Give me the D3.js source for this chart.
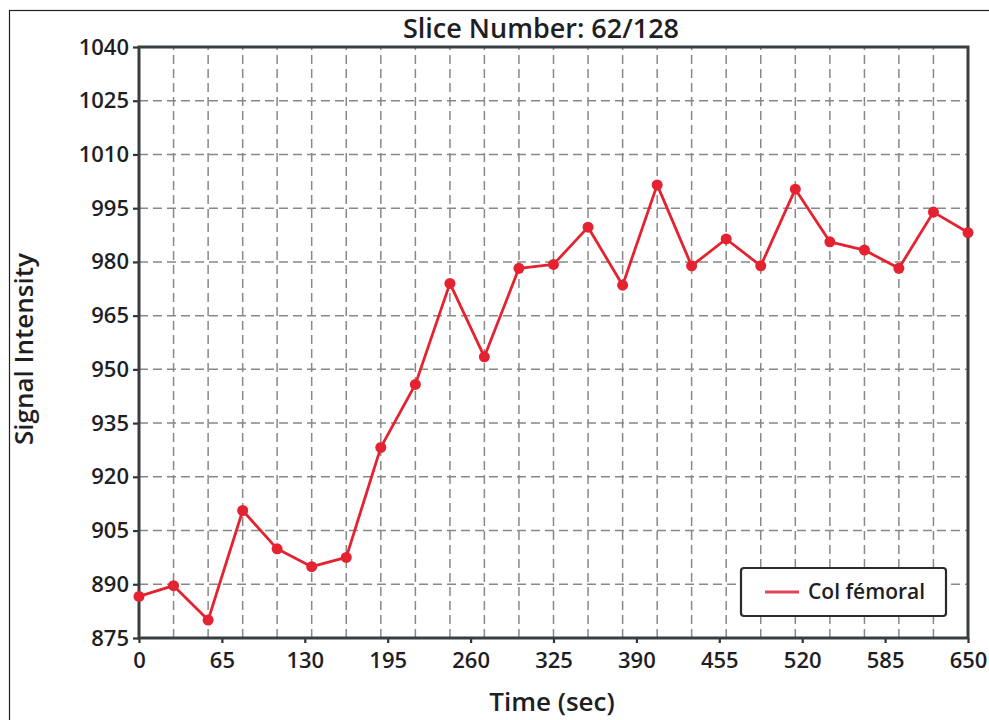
<!DOCTYPE html>
<html>
<head>
<meta charset="utf-8">
<script src="https://cdn.jsdelivr.net/npm/d3@7"></script>
<style>
  html, body { margin: 0; padding: 0; background: #fff; }
  svg { display: block; }
  text { font-family: "Open Sans", "Noto Sans", "DejaVu Sans", sans-serif; fill: #1e1e24; }
</style>
</head>
<body>
<svg id="chart" width="989" height="720"></svg>
<script>
// ---- data ----
const chartTitle = "Slice Number: 62/128";
const xTitle = "Time (sec)";
const yTitle = "Signal Intensity";
const seriesName = "Col fémoral";
const times = [0, 27.1, 54.2, 81.3, 108.3, 135.4, 162.5, 189.6, 216.7, 243.8, 270.8, 297.9, 325.0,
               352.1, 379.2, 406.3, 433.3, 460.4, 487.5, 514.6, 541.7, 568.8, 595.8, 622.9, 650.0];
const intensity = [886.6, 889.6, 880.0, 910.6, 899.9, 894.9, 897.5, 928.2, 945.8, 974.0, 953.5, 978.2, 979.3,
                   989.7, 973.5, 1001.5, 978.9, 986.4, 978.9, 1000.3, 985.6, 983.3, 978.2, 993.9, 988.2];
const xTicks = [0, 65, 130, 195, 260, 325, 390, 455, 520, 585, 650];
const yTicks = [875, 890, 905, 920, 935, 950, 965, 980, 995, 1010, 1025, 1040];

// ---- layout ----
const svg = d3.select("#chart");
const L = 139, R = 968, T = 47, B = 638;
const red = "#e5222f";

const x = d3.scaleLinear().domain([0, 650]).range([L, R]);
const y = d3.scaleLinear().domain([875, 1040]).range([B, T]);

// outer frame
svg.append("rect").attr("x", 9.5).attr("y", 10.5).attr("width", 1000).attr("height", 800)
  .attr("fill", "none").attr("stroke", "#222").attr("stroke-width", 1.2);

// grid
const grid = svg.append("g").attr("stroke", "#888").attr("stroke-width", 1.5)
  .attr("stroke-dasharray", "9,5");
grid.selectAll("line.h").data(yTicks.slice(1, -1)).join("line").attr("class", "h")
  .attr("x1", L).attr("x2", R).attr("y1", d => y(d)).attr("y2", d => y(d));
grid.selectAll("line.v").data(times.slice(1, -1)).join("line").attr("class", "v")
  .attr("y1", B).attr("y2", T).attr("x1", d => x(d)).attr("x2", d => x(d));

// axes
const xAxis = d3.axisBottom(x).tickValues(xTicks).tickSize(5).tickPadding(9).tickFormat(d3.format("d"));
const yAxis = d3.axisLeft(y).tickValues(yTicks).tickSize(6).tickPadding(4).tickFormat(d3.format("d"));
const gx = svg.append("g").attr("transform", `translate(0,${B})`).call(xAxis);
const gy = svg.append("g").attr("transform", `translate(${L},0)`).call(yAxis);
[gx, gy].forEach(g => {
  g.select(".domain").remove();
  g.selectAll(".tick line").attr("stroke", "#333").attr("stroke-width", 2.2);
  g.selectAll(".tick text").attr("font-size", 22).attr("font-weight", 600).attr("fill", "#23232b");
});

// plot border
svg.append("rect").attr("x", L).attr("y", T).attr("width", R - L).attr("height", B - T)
  .attr("fill", "none").attr("stroke", "#3a3d40").attr("stroke-width", 3);

// series
const pts = times.map((t, i) => [t, intensity[i]]);
svg.append("path").datum(pts)
  .attr("fill", "none").attr("stroke", red).attr("stroke-width", 2.8).attr("stroke-linejoin", "round")
  .attr("d", d3.line().x(d => x(d[0])).y(d => y(d[1])));
svg.append("g").selectAll("circle").data(pts).join("circle")
  .attr("cx", d => x(d[0])).attr("cy", d => y(d[1])).attr("r", 5.5).attr("fill", red);

// titles
svg.append("text").attr("x", 541).attr("y", 38).attr("text-anchor", "middle")
  .attr("font-size", 27).attr("font-weight", 600).text(chartTitle);
svg.append("text").attr("x", 552).attr("y", 711).attr("text-anchor", "middle")
  .attr("font-size", 26).attr("font-weight", 600).text(xTitle);
svg.append("text").attr("transform", "translate(33,349) rotate(-90)").attr("text-anchor", "middle")
  .attr("font-size", 26).attr("font-weight", 600).text(yTitle);

// legend
const lg = svg.append("g");
lg.append("rect").attr("x", 741).attr("y", 568).attr("width", 205).attr("height", 48).attr("rx", 3)
  .attr("fill", "#fff").attr("stroke", "#2a2a2a").attr("stroke-width", 2.2);
lg.append("line").attr("x1", 765).attr("x2", 799).attr("y1", 592).attr("y2", 592)
  .attr("stroke", "#e2455a").attr("stroke-width", 3);
lg.append("text").attr("x", 808).attr("y", 599).attr("font-size", 21).attr("font-weight", 600)
  .text(seriesName);
</script>
</body>
</html>
